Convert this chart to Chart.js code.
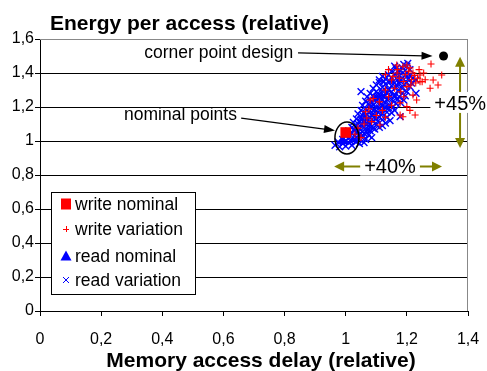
<!DOCTYPE html>
<html>
<head>
<meta charset="utf-8">
<script src="https://cdn.jsdelivr.net/npm/chart.js@4.4.0/dist/chart.umd.min.js"></script>
<style>
  html, body { margin: 0; padding: 0; background: #fff; }
</style>
</head>
<body>
<canvas id="c" width="487" height="371"></canvas>
<script>
// values (relative delay, relative energy)
const xTicks = [0, 0.2, 0.4, 0.6, 0.8, 1, 1.2, 1.4]
const yTicks = [0, 0.2, 0.4, 0.6, 0.8, 1, 1.2, 1.4, 1.6]

const cornerPoint = [[1.32, 1.5]]
const writeNominal = [[1.0, 1.05]]
const readNominal = [[0.99, 1.0]]

const writeVariation = [
  [1.279, 1.453], [1.314, 1.388], [1.286, 1.359], [1.302, 1.329], [1.276, 1.31],
  [1.25, 1.349], [1.229, 1.341], [1.232, 1.241], [1.227, 1.153], [1.187, 1.143],
  [1.15, 1.359], [1.22, 1.4], [1.243, 1.388], [1.167, 1.447], [1.187, 1.437],
  [1.168, 1.40], [1.2, 1.447], [1.243, 1.349], [1.213, 1.329], [1.178, 1.224],
  [1.2, 1.202], [1.21, 1.18], [1.178, 1.153], [1.08, 1.241], [1.09, 1.25],
  [1.065, 1.172], [1.069, 1.135], [1.085, 1.114], [1.112, 1.094], [1.04, 1.076],
  [1.076, 1.188], [1.14, 1.42], [1.155, 1.38], [1.175, 1.37], [1.195, 1.39],
  [1.205, 1.41], [1.215, 1.36], [1.225, 1.385], [1.235, 1.37], [1.19, 1.35],
  [1.2, 1.32], [1.16, 1.31], [1.13, 1.3], [1.18, 1.29], [1.22, 1.27],
  [1.14, 1.26], [1.11, 1.23], [1.15, 1.21], [1.19, 1.26], [1.12, 1.18],
  [1.1, 1.15], [1.13, 1.14], [1.06, 1.1], [1.03, 1.04], [1.05, 1.02],
  [1.26, 1.36], [1.255, 1.4], [1.21, 1.43], [1.24, 1.42], [1.17, 1.42], [1.13, 1.39]
]

const readVariation = [
  [0.965, 0.975], [0.98, 0.965], [0.99, 0.985], [1.0, 0.97], [1.01, 0.99],
  [1.02, 0.975], [1.035, 0.995], [0.975, 0.995], [1.045, 0.985], [1.06, 0.99],
  [0.99, 1.01], [1.0, 1.03], [1.01, 1.02], [1.02, 1.045], [1.025, 1.005],
  [1.03, 1.03], [1.04, 1.015], [1.045, 1.04], [1.05, 1.025], [1.06, 1.045],
  [1.065, 1.01], [1.075, 1.035], [1.035, 1.048], [1.015, 1.0], [1.085, 1.02],
  [1.01, 1.06], [1.02, 1.08], [1.03, 1.065], [1.035, 1.09], [1.045, 1.07],
  [1.05, 1.095], [1.055, 1.055], [1.06, 1.08], [1.07, 1.065], [1.075, 1.09],
  [1.08, 1.06], [1.085, 1.085], [1.095, 1.07], [1.1, 1.095], [1.11, 1.08],
  [1.04, 1.1], [1.065, 1.1], [1.12, 1.09],
  [1.025, 1.11], [1.035, 1.13], [1.045, 1.115], [1.05, 1.14], [1.06, 1.12],
  [1.065, 1.145], [1.075, 1.11], [1.08, 1.135], [1.09, 1.12], [1.095, 1.145],
  [1.105, 1.115], [1.11, 1.14], [1.12, 1.125], [1.13, 1.105], [1.135, 1.14],
  [1.055, 1.15], [1.085, 1.15], [1.145, 1.12],
  [1.04, 1.16], [1.05, 1.18], [1.06, 1.165], [1.065, 1.19], [1.075, 1.17],
  [1.08, 1.2], [1.09, 1.16], [1.095, 1.185], [1.105, 1.17], [1.11, 1.195],
  [1.12, 1.16], [1.125, 1.185], [1.135, 1.17], [1.14, 1.195], [1.15, 1.165],
  [1.16, 1.18], [1.1, 1.2], [1.07, 1.155], [1.178, 1.143],
  [1.055, 1.21], [1.065, 1.235], [1.075, 1.22], [1.08, 1.245], [1.09, 1.21],
  [1.1, 1.23], [1.105, 1.25], [1.115, 1.215], [1.12, 1.24], [1.13, 1.225],
  [1.14, 1.25], [1.145, 1.21], [1.155, 1.235], [1.165, 1.22], [1.17, 1.245],
  [1.18, 1.225], [1.19, 1.24], [1.095, 1.25],
  [1.07, 1.26], [1.08, 1.28], [1.09, 1.265], [1.1, 1.29], [1.11, 1.27],
  [1.12, 1.295], [1.125, 1.26], [1.135, 1.28], [1.145, 1.265], [1.15, 1.29],
  [1.16, 1.27], [1.17, 1.295], [1.175, 1.26], [1.185, 1.28], [1.195, 1.265],
  [1.2, 1.29], [1.05, 1.29], [1.23, 1.28],
  [1.09, 1.31], [1.1, 1.33], [1.11, 1.345], [1.12, 1.315], [1.13, 1.335],
  [1.14, 1.305], [1.15, 1.325], [1.155, 1.35], [1.165, 1.315], [1.175, 1.34],
  [1.185, 1.31], [1.19, 1.33], [1.2, 1.345], [1.21, 1.32], [1.215, 1.34], [1.125, 1.35],
  [1.11, 1.36], [1.12, 1.38], [1.13, 1.365], [1.14, 1.39], [1.15, 1.37],
  [1.16, 1.395], [1.17, 1.36], [1.175, 1.385], [1.185, 1.37], [1.195, 1.39],
  [1.205, 1.365], [1.21, 1.385], [1.22, 1.37], [1.23, 1.36],
  [1.15, 1.41], [1.165, 1.425], [1.175, 1.405], [1.185, 1.43], [1.195, 1.415],
  [1.2, 1.44], [1.203, 1.457], [1.21, 1.42], [1.19, 1.45],
  [1.0, 1.0], [1.03, 1.01], [1.055, 1.035], [1.04, 1.06], [1.07, 1.05],
  [1.09, 1.075], [1.06, 1.11], [1.1, 1.13], [1.07, 1.13], [1.115, 1.155],
  [1.09, 1.18], [1.13, 1.2], [1.085, 1.225], [1.11, 1.255], [1.135, 1.245],
  [1.16, 1.26], [1.105, 1.28], [1.14, 1.3], [1.165, 1.33], [1.18, 1.36],
  [1.145, 1.35], [1.2, 1.38], [1.175, 1.42], [1.16, 1.44], [1.125, 1.27],
  [1.155, 1.2], [1.025, 1.065], [1.08, 1.1], [1.05, 1.125], [1.12, 1.21]
]

const legendItems = ['write nominal', 'write variation', 'read nominal', 'read variation']

const FONT = "'Liberation Sans', Arial, sans-serif"
const RED = '#ff0000'
const BLUE = '#0000ff'
const OLIVE = '#808000'

const toXY = arr => arr.map(([x, y]) => ({ x, y }))
const fmt = v => String(Math.round(v * 10) / 10).replace('.', ',')

function arrowHead(ctx, tx, ty, ang, len, half) {
  const c = Math.cos(ang), s = Math.sin(ang)
  ctx.beginPath()
  ctx.moveTo(tx, ty)
  ctx.lineTo(tx - len * c + half * s, ty - len * s - half * c)
  ctx.lineTo(tx - len * c - half * s, ty - len * s + half * c)
  ctx.closePath()
  ctx.fill()
}

function arrow(ctx, x1, y1, x2, y2, color, width, len, half, both) {
  const ang = Math.atan2(y2 - y1, x2 - x1)
  ctx.strokeStyle = color
  ctx.fillStyle = color
  ctx.lineWidth = width
  ctx.beginPath()
  ctx.moveTo(both ? x1 + Math.cos(ang) * len * 0.8 : x1, both ? y1 + Math.sin(ang) * len * 0.8 : y1)
  ctx.lineTo(x2 - Math.cos(ang) * len * 0.8, y2 - Math.sin(ang) * len * 0.8)
  ctx.stroke()
  arrowHead(ctx, x2, y2, ang, len, half)
  if (both) arrowHead(ctx, x1, y1, ang + Math.PI, len, half)
}

function labelBox(ctx, text, cx, cy, size) {
  ctx.font = size + 'px ' + FONT
  const w = ctx.measureText(text).width
  ctx.fillStyle = '#fff'
  ctx.fillRect(cx - w / 2 - 4, cy - size * 0.55, w + 8, size * 1.05)
  ctx.fillStyle = '#000'
  ctx.textAlign = 'center'
  ctx.textBaseline = 'alphabetic'
  ctx.fillText(text, cx, cy + size * 0.36)
}

const decor = {
  id: 'decor',
  beforeDatasetsDraw(chart) {
    const { ctx, chartArea: a, scales: { x, y } } = chart
    ctx.save()
    // grey frame on top and right
    ctx.strokeStyle = '#888'
    ctx.lineWidth = 1
    ctx.beginPath()
    ctx.moveTo(a.left, a.top + 0.5)
    ctx.lineTo(a.right - 0.5, a.top + 0.5)
    ctx.lineTo(a.right - 0.5, a.bottom)
    ctx.stroke()

    // +45% vertical arrow
    const vx = x.getPixelForValue(1.374)
    arrow(ctx, vx, y.getPixelForValue(1.496), vx, y.getPixelForValue(0.959), OLIVE, 2, 10, 5, true)
    ctx.font = '20px ' + FONT
    const w45 = ctx.measureText('+45%').width
    const lx = x.getPixelForValue(1.29)
    labelBox(ctx, '+45%', lx + w45 / 2, y.getPixelForValue(1.224), 20)

    // +40% horizontal arrow
    const hy = y.getPixelForValue(0.85)
    arrow(ctx, x.getPixelForValue(0.962), hy, x.getPixelForValue(1.315), hy, OLIVE, 2, 10, 5, true)
    labelBox(ctx, '+40%', x.getPixelForValue(1.145), y.getPixelForValue(0.855), 20)
    ctx.restore()
  },
  afterDatasetsDraw(chart) {
    const { ctx, chartArea: a, scales: { x, y } } = chart
    ctx.save()
    ctx.fillStyle = '#000'
    ctx.textBaseline = 'alphabetic'

    // titles
    ctx.font = 'bold 21px ' + FONT
    ctx.textAlign = 'left'
    ctx.fillText('Energy per access (relative)', 50, 30)
    ctx.textAlign = 'center'
    ctx.fillText('Memory access delay (relative)', 261, 367)

    // corner point design
    ctx.font = '17.5px ' + FONT
    ctx.textAlign = 'right'
    ctx.fillText('corner point design', x.getPixelForValue(0.828), y.getPixelForValue(1.518) + 5)
    arrow(ctx, x.getPixelForValue(0.844), y.getPixelForValue(1.518), x.getPixelForValue(1.284), y.getPixelForValue(1.5), '#000', 1.3, 11, 4, false)

    // nominal points
    ctx.fillStyle = '#000'
    ctx.fillText('nominal points', x.getPixelForValue(0.644), y.getPixelForValue(1.153) + 5)
    arrow(ctx, x.getPixelForValue(0.658), y.getPixelForValue(1.135), x.getPixelForValue(0.965), y.getPixelForValue(1.062), '#000', 1.3, 11, 4, false)
    ctx.strokeStyle = '#000'
    ctx.lineWidth = 1.5
    ctx.beginPath()
    ctx.ellipse(x.getPixelForValue(1.004), y.getPixelForValue(1.018), 12, 16, 0, 0, Math.PI * 2)
    ctx.stroke()

    // legend box
    const lx = 51.5, ly = 192.5, lw = 144, lh = 102
    ctx.fillStyle = '#fff'
    ctx.fillRect(lx, ly, lw, lh)
    ctx.strokeStyle = '#000'
    ctx.lineWidth = 1
    ctx.strokeRect(lx, ly, lw, lh)
    const rows = [204, 229, 256, 280]
    const sx = 66
    // write nominal: square
    ctx.fillStyle = RED
    ctx.fillRect(sx - 5, rows[0] - 5.5, 10, 11)
    // write variation: plus
    ctx.strokeStyle = RED
    ctx.beginPath()
    ctx.moveTo(sx - 3, rows[1] + 0.5); ctx.lineTo(sx + 3, rows[1] + 0.5)
    ctx.moveTo(sx + 0.5, rows[1] - 3); ctx.lineTo(sx + 0.5, rows[1] + 3)
    ctx.stroke()
    // read nominal: triangle
    ctx.fillStyle = BLUE
    ctx.beginPath()
    ctx.moveTo(sx, rows[2] - 5.5); ctx.lineTo(sx + 5.5, rows[2] + 4.5); ctx.lineTo(sx - 5.5, rows[2] + 4.5)
    ctx.closePath(); ctx.fill()
    // read variation: x
    ctx.strokeStyle = BLUE
    ctx.beginPath()
    ctx.moveTo(sx - 3, rows[3] - 3); ctx.lineTo(sx + 3, rows[3] + 3)
    ctx.moveTo(sx + 3, rows[3] - 3); ctx.lineTo(sx - 3, rows[3] + 3)
    ctx.stroke()
    ctx.fillStyle = '#000'
    ctx.textAlign = 'left'
    ctx.font = '17.5px ' + FONT
    legendItems.forEach((t, i) => ctx.fillText(t, 75, rows[i] + 6))
    ctx.restore()
  }
}

new Chart(document.getElementById('c'), {
  type: 'scatter',
  data: {
    datasets: [
      { label: 'corner point design', data: toXY(cornerPoint), pointStyle: 'circle', pointRadius: 4.5,
        backgroundColor: '#000', borderColor: '#000', borderWidth: 0, order: 0 },
      { label: 'write nominal', data: toXY(writeNominal), pointStyle: 'rect', pointRadius: 7.5,
        backgroundColor: RED, borderColor: RED, borderWidth: 0, order: 1 },
      { label: 'read nominal', data: toXY(readNominal), pointStyle: 'triangle', pointRadius: 6.5,
        backgroundColor: BLUE, borderColor: BLUE, borderWidth: 0, order: 2 },
      { label: 'write variation', data: toXY(writeVariation), pointStyle: 'cross', pointRadius: 3.5,
        borderColor: RED, borderWidth: 1.1, order: 3 },
      { label: 'read variation', data: toXY(readVariation), pointStyle: 'crossRot', pointRadius: 4.8,
        borderColor: BLUE, borderWidth: 1.4, order: 4 }
    ]
  },
  options: {
    responsive: false,
    animation: false,
    events: [],
    layout: { padding: { top: 39, right: 19, left: 0, bottom: 0 } },
    plugins: { legend: { display: false }, title: { display: false }, tooltip: { enabled: false } },
    scales: {
      x: {
        type: 'linear', min: 0, max: 1.4,
        afterFit: s => { s.height = 60; s.paddingLeft = 0; s.paddingRight = 0 },
        afterBuildTicks: s => { s.ticks = xTicks.map(v => ({ value: v })) },
        ticks: { stepSize: 0.2, padding: 14, color: '#000', maxRotation: 0, font: { family: FONT, size: 16 }, callback: fmt },
        grid: { drawOnChartArea: false, drawTicks: true, tickLength: 5, tickColor: '#000' },
        border: { color: '#000', width: 1 }
      },
      y: {
        min: 0, max: 1.6,
        afterFit: s => { s.width = 40; s.paddingTop = 0; s.paddingBottom = 0 },
        afterBuildTicks: s => { s.ticks = yTicks.map(v => ({ value: v })) },
        ticks: { stepSize: 0.2, padding: 1, color: '#000', font: { family: FONT, size: 16 }, callback: fmt },
        grid: {
          color: c => (c.tick && c.tick.value > 1.55 ? '#888' : '#000'),
          tickColor: '#000', tickLength: 5
        },
        border: { color: '#000', width: 1 }
      }
    }
  },
  plugins: [decor]
})
</script>
</body>
</html>
